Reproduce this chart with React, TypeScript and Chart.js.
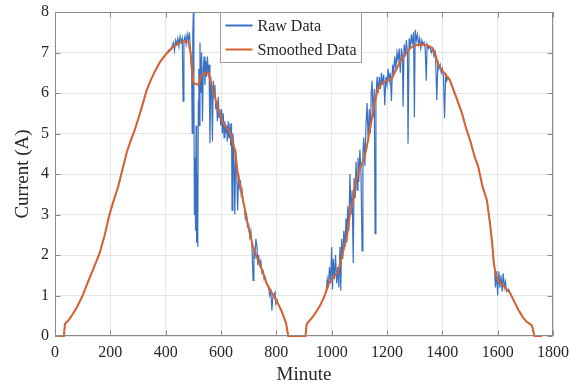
import { useEffect, useRef } from 'react';
import { Chart, registerables } from 'chart.js';

Chart.register(...registerables);

// ---- data ----
const xTickValues = [0, 200, 400, 600, 800, 1000, 1200, 1400, 1600, 1800];
const yTickValues = [0, 1, 2, 3, 4, 5, 6, 7, 8];
const seriesLabels = ['Raw Data', 'Smoothed Data'];

// Smoothed curve: [minute, current]
const smoothedData: [number, number][] = [
  [0, 0], [20, 0], [32, 0], [36, 0.3], [50, 0.4], [65, 0.55], [80, 0.72], [100, 1.0],
  [120, 1.35], [140, 1.68], [160, 2.02], [180, 2.5], [195, 2.95], [210, 3.3], [228, 3.68],
  [246, 4.17], [260, 4.55], [275, 4.85], [289, 5.1], [305, 5.45], [320, 5.8], [332, 6.08],
  [345, 6.3], [360, 6.52], [380, 6.77], [400, 6.95], [415, 7.05], [427, 7.14], [445, 7.22],
  [463, 7.28], [482, 7.27], [490, 7.0], [500, 6.25], [518, 6.2], [530, 6.45], [554, 6.5],
  [572, 6.05], [590, 5.6], [608, 5.25], [632, 5.04], [650, 4.6], [661, 4.0], [680, 3.35],
  [698, 2.72], [716, 2.2], [734, 1.87], [750, 1.6], [765, 1.3], [785, 1.05], [806, 0.8],
  [820, 0.6], [835, 0.32], [843, 0], [905, 0], [910, 0.3], [935, 0.5], [958, 0.75],
  [975, 1.0], [990, 1.3], [1010, 1.48], [1023, 1.58], [1040, 2.05], [1055, 2.45],
  [1066, 3.0], [1075, 3.3], [1085, 3.75], [1100, 4.1], [1115, 4.35], [1125, 4.6],
  [1140, 5.15], [1155, 5.75], [1165, 6.05], [1182, 6.25], [1200, 6.3], [1218, 6.37],
  [1235, 6.6], [1250, 6.8], [1265, 6.95], [1283, 7.1], [1300, 7.18], [1320, 7.2],
  [1345, 7.18], [1366, 7.1], [1375, 6.95], [1384, 6.72], [1400, 6.55], [1427, 6.32],
  [1450, 5.9], [1471, 5.5], [1485, 5.15], [1500, 4.84], [1518, 4.4], [1529, 4.2],
  [1545, 3.7], [1561, 3.35], [1572, 2.8], [1580, 2.3], [1586, 1.8], [1592, 1.55],
  [1601, 1.38], [1620, 1.25], [1644, 1.07], [1660, 0.85], [1675, 0.65], [1691, 0.46],
  [1705, 0.35], [1716, 0.3], [1724, 0.26], [1733, 0], [1760, 0],
];

// Raw measurements: [minute, current]
const rawData: [number, number][] = [
  [0, 0], [20, 0], [32, 0], [36, 0.3], [50, 0.4], [65, 0.55], [80, 0.72], [100, 1.0],
  [120, 1.35], [140, 1.68], [160, 2.02], [180, 2.5], [195, 2.95], [210, 3.3], [228, 3.68],
  [246, 4.17], [260, 4.55], [275, 4.85], [289, 5.1], [305, 5.45], [320, 5.8], [332, 6.08],
  [345, 6.3], [360, 6.52], [380, 6.77], [400, 6.95], [410, 7.05], [420, 7.1], [428, 7.25],
  [432, 7.05], [436, 7.3], [440, 7.2], [444, 7.35], [448, 7.15], [452, 7.4], [456, 7.25],
  [460, 7.35], [463, 5.8], [466, 7.3], [470, 7.4], [474, 7.2], [478, 7.45], [482, 7.3],
  [486, 7.5], [490, 7.0], [494, 6.5], [496, 5.0], [498, 7.4], [500, 7.98], [502, 6.0],
  [504, 3.0], [506, 4.4], [508, 2.6], [510, 5.2], [512, 2.3], [514, 4.0], [516, 2.2],
  [518, 5.8], [520, 6.6], [522, 5.2], [524, 7.24], [527, 6.0], [530, 7.0], [533, 5.3],
  [536, 6.6], [539, 6.9], [542, 6.2], [545, 6.8], [548, 6.4], [551, 6.9], [554, 6.5],
  [557, 6.7], [560, 4.76], [563, 6.4], [566, 6.1], [569, 4.8], [572, 6.3], [575, 5.9],
  [578, 6.2], [581, 5.6], [584, 5.8], [587, 5.3], [590, 5.9], [593, 5.4], [596, 5.6],
  [599, 5.2], [602, 5.6], [605, 5.0], [608, 5.5], [611, 4.9], [614, 5.3], [617, 5.0],
  [620, 5.2], [623, 4.8], [626, 5.3], [629, 4.9], [632, 5.25], [635, 4.7], [638, 5.25],
  [640, 3.1], [643, 5.0], [646, 4.7], [650, 3.0], [653, 4.6], [656, 4.3], [660, 3.1],
  [664, 4.0], [667, 3.7], [670, 3.85], [673, 3.5], [676, 3.6], [680, 3.3], [684, 3.2],
  [688, 2.9], [692, 3.0], [696, 2.7], [700, 2.75], [704, 2.45], [708, 2.6], [712, 2.2],
  [716, 1.37], [719, 2.15], [722, 1.9], [726, 2.4], [730, 2.2], [733, 1.75], [736, 2.0],
  [740, 1.75], [744, 1.85], [748, 1.55], [752, 1.6], [756, 1.4], [760, 1.45], [764, 1.3],
  [768, 1.25], [772, 1.2], [776, 1.0], [780, 1.1], [784, 0.63], [787, 0.95], [790, 1.0],
  [795, 1.08], [798, 0.8], [802, 0.9], [806, 0.8], [820, 0.6], [835, 0.32], [843, 0],
  [905, 0], [910, 0.3], [935, 0.5], [958, 0.75], [975, 1.0], [980, 1.1], [984, 1.4],
  [988, 1.2], [992, 1.7], [996, 1.3], [1000, 2.2], [1003, 1.15], [1006, 1.9], [1010, 1.4],
  [1014, 2.0], [1018, 1.3], [1022, 1.7], [1026, 1.2], [1030, 2.2], [1033, 1.12],
  [1036, 2.4], [1040, 1.9], [1044, 2.6], [1048, 2.2], [1052, 2.9], [1055, 2.3],
  [1058, 3.2], [1062, 2.6], [1066, 4.0], [1070, 3.0], [1074, 3.6], [1078, 1.8],
  [1081, 3.9], [1085, 3.4], [1088, 4.3], [1092, 3.6], [1095, 4.4], [1098, 3.8],
  [1102, 4.6], [1106, 4.0], [1110, 2.1], [1113, 4.5], [1116, 4.9], [1120, 4.2],
  [1124, 5.2], [1128, 5.75], [1132, 4.8], [1136, 5.6], [1140, 5.0], [1143, 6.0],
  [1146, 6.3], [1150, 5.4], [1154, 6.1], [1157, 2.53], [1160, 5.9], [1164, 6.4],
  [1168, 6.0], [1172, 6.4], [1176, 6.1], [1180, 6.5], [1184, 6.2], [1188, 6.45],
  [1192, 5.7], [1196, 6.4], [1200, 6.2], [1204, 6.6], [1208, 6.3], [1212, 6.5],
  [1216, 5.8], [1220, 6.7], [1224, 6.5], [1228, 6.9], [1232, 6.6], [1236, 7.0],
  [1240, 6.8], [1244, 7.1], [1248, 6.5], [1252, 7.1], [1256, 6.9], [1258, 5.66],
  [1262, 7.2], [1266, 6.9], [1270, 7.3], [1274, 7.0], [1276, 4.75], [1280, 7.35],
  [1284, 7.1], [1288, 7.45], [1292, 7.2], [1296, 7.5], [1299, 5.4], [1302, 7.56],
  [1306, 7.3], [1310, 7.45], [1314, 7.2], [1318, 7.35], [1322, 7.1], [1326, 7.3],
  [1330, 7.2], [1334, 7.25], [1338, 7.1], [1342, 6.3], [1345, 7.2], [1350, 7.1],
  [1355, 7.15], [1360, 7.0], [1365, 7.1], [1370, 6.9], [1375, 7.0], [1380, 5.83],
  [1384, 6.8], [1388, 6.6], [1392, 6.7], [1396, 6.5], [1400, 6.6], [1404, 6.4],
  [1408, 5.38], [1412, 6.5], [1416, 6.3], [1420, 6.4], [1427, 6.32], [1450, 5.9],
  [1471, 5.5], [1485, 5.15], [1500, 4.84], [1518, 4.4], [1529, 4.2], [1545, 3.7],
  [1561, 3.35], [1572, 2.8], [1580, 2.3], [1586, 1.8], [1588, 1.8], [1592, 1.2],
  [1596, 1.6], [1600, 1.0], [1604, 1.6], [1608, 1.2], [1612, 1.5], [1616, 1.1],
  [1620, 1.55], [1624, 1.2], [1628, 1.35], [1632, 1.1], [1640, 1.15], [1644, 1.07],
  [1660, 0.85], [1675, 0.65], [1691, 0.46], [1705, 0.35], [1716, 0.3], [1724, 0.26],
  [1733, 0], [1760, 0],
];

const FONT = '"Liberation Serif", "Times New Roman", serif';
const TEXT_COLOR = '#262626';
const AXIS_COLOR = '#8a8a8a';
const GRID_COLOR = '#e6e6e6';
const BLUE = '#3a70c2';
const ORANGE = '#d9622e';

const framePlugin = {
  id: 'frameAndLegend',
  afterDatasetsDraw(chart: any) {
    const { ctx, chartArea: a, scales } = chart;
    ctx.save();
    ctx.strokeStyle = AXIS_COLOR;
    ctx.lineWidth = 1;
    const L = Math.round(a.left) + 0.5;
    const R = Math.round(a.right) - 0.5;
    const T = Math.round(a.top) + 0.5;
    const B = Math.round(a.bottom) - 0.5;
    ctx.strokeRect(L, T, R - L, B - T);
    ctx.beginPath();
    xTickValues.forEach((v) => {
      const px = Math.round(scales.x.getPixelForValue(v)) + 0.5;
      ctx.moveTo(px, B); ctx.lineTo(px, B - 5);
      ctx.moveTo(px, T); ctx.lineTo(px, T + 5);
    });
    yTickValues.forEach((v) => {
      const py = Math.round(scales.y.getPixelForValue(v)) + 0.5;
      ctx.moveTo(L, py); ctx.lineTo(L + 5, py);
      ctx.moveTo(R, py); ctx.lineTo(R - 5, py);
    });
    ctx.stroke();

    // legend
    const ds = chart.data.datasets;
    ctx.font = `16px ${FONT}`;
    const textW = Math.max(...ds.map((d: any) => ctx.measureText(d.label).width));
    const left = Math.round(a.left + 165) + 0.5;
    const top = T;
    const w = Math.round(37 + textW + 5);
    const h = 50;
    ctx.fillStyle = '#ffffff';
    ctx.fillRect(left, top, w, h);
    ctx.strokeStyle = '#9a9a9a';
    ctx.lineWidth = 1;
    ctx.strokeRect(left, top, w, h);
    ds.forEach((d: any, i: number) => {
      const y = top + 13 + i * 24;
      ctx.strokeStyle = d.borderColor;
      ctx.lineWidth = 2;
      ctx.beginPath();
      ctx.moveTo(left + 5, y);
      ctx.lineTo(left + 32, y);
      ctx.stroke();
      ctx.fillStyle = TEXT_COLOR;
      ctx.textBaseline = 'middle';
      ctx.textAlign = 'left';
      ctx.fillText(d.label, left + 37, y + 1);
    });
    ctx.restore();
  },
};

export default function App() {
  const ref = useRef<HTMLCanvasElement>(null);

  useEffect(() => {
    document.body.style.margin = '0';
    const canvas = ref.current;
    if (!canvas) return;
    const chart = new Chart(canvas, {
      type: 'line',
      data: {
        datasets: [
          {
            label: seriesLabels[0],
            data: rawData.map(([x, y]) => ({ x, y })),
            borderColor: BLUE,
            backgroundColor: BLUE,
            borderWidth: 1.2,
            pointRadius: 0,
            tension: 0,
            order: 2,
            clip: 3,
          },
          {
            label: seriesLabels[1],
            data: smoothedData.map(([x, y]) => ({ x, y })),
            borderColor: ORANGE,
            backgroundColor: ORANGE,
            borderWidth: 2,
            pointRadius: 0,
            tension: 0,
            order: 1,
            clip: 3,
          },
        ],
      },
      options: {
        responsive: false,
        animation: false,
        devicePixelRatio: 1,
        layout: { padding: { top: 12, right: 18, left: 0, bottom: 0 } },
        plugins: {
          legend: { display: false },
          tooltip: { enabled: false },
        },
        scales: {
          x: {
            type: 'linear',
            min: 0,
            max: 1800,
            afterBuildTicks: (s: any) => { s.ticks = xTickValues.map((v) => ({ value: v })); },
            afterFit: (s: any) => {
              s.height = 50;
              s.paddingLeft = 0;
              s.paddingRight = 0;
            },
            ticks: {
              font: { family: FONT, size: 16 },
              color: TEXT_COLOR,
              padding: 7,
              maxRotation: 0,
              autoSkip: false,
              callback: (v: any) => String(v),
            },
            grid: { color: GRID_COLOR, drawTicks: false },
            border: { display: false },
            title: {
              display: true,
              text: 'Minute',
              font: { family: FONT, size: 19 },
              color: TEXT_COLOR,
              padding: { top: 0, bottom: 0 },
            },
          },
          y: {
            type: 'linear',
            min: 0,
            max: 8,
            afterBuildTicks: (s: any) => { s.ticks = yTickValues.map((v) => ({ value: v })); },
            afterFit: (s: any) => {
              s.width = 55;
              s.paddingTop = 0;
              s.paddingBottom = 0;
            },
            ticks: {
              font: { family: FONT, size: 16 },
              color: TEXT_COLOR,
              padding: 6,
              autoSkip: false,
              callback: (v: any) => String(v),
            },
            grid: { color: GRID_COLOR, drawTicks: false },
            border: { display: false },
            title: {
              display: true,
              text: 'Current (A)',
              font: { family: FONT, size: 19 },
              color: TEXT_COLOR,
              padding: { top: 12, bottom: 0 },
            },
          },
        },
      },
      plugins: [framePlugin],
    });
    return () => chart.destroy();
  }, []);

  return (
    <div style={{ width: 571, height: 386 }}>
      <canvas ref={ref} width={571} height={386} style={{ display: 'block' }} />
    </div>
  );
}
